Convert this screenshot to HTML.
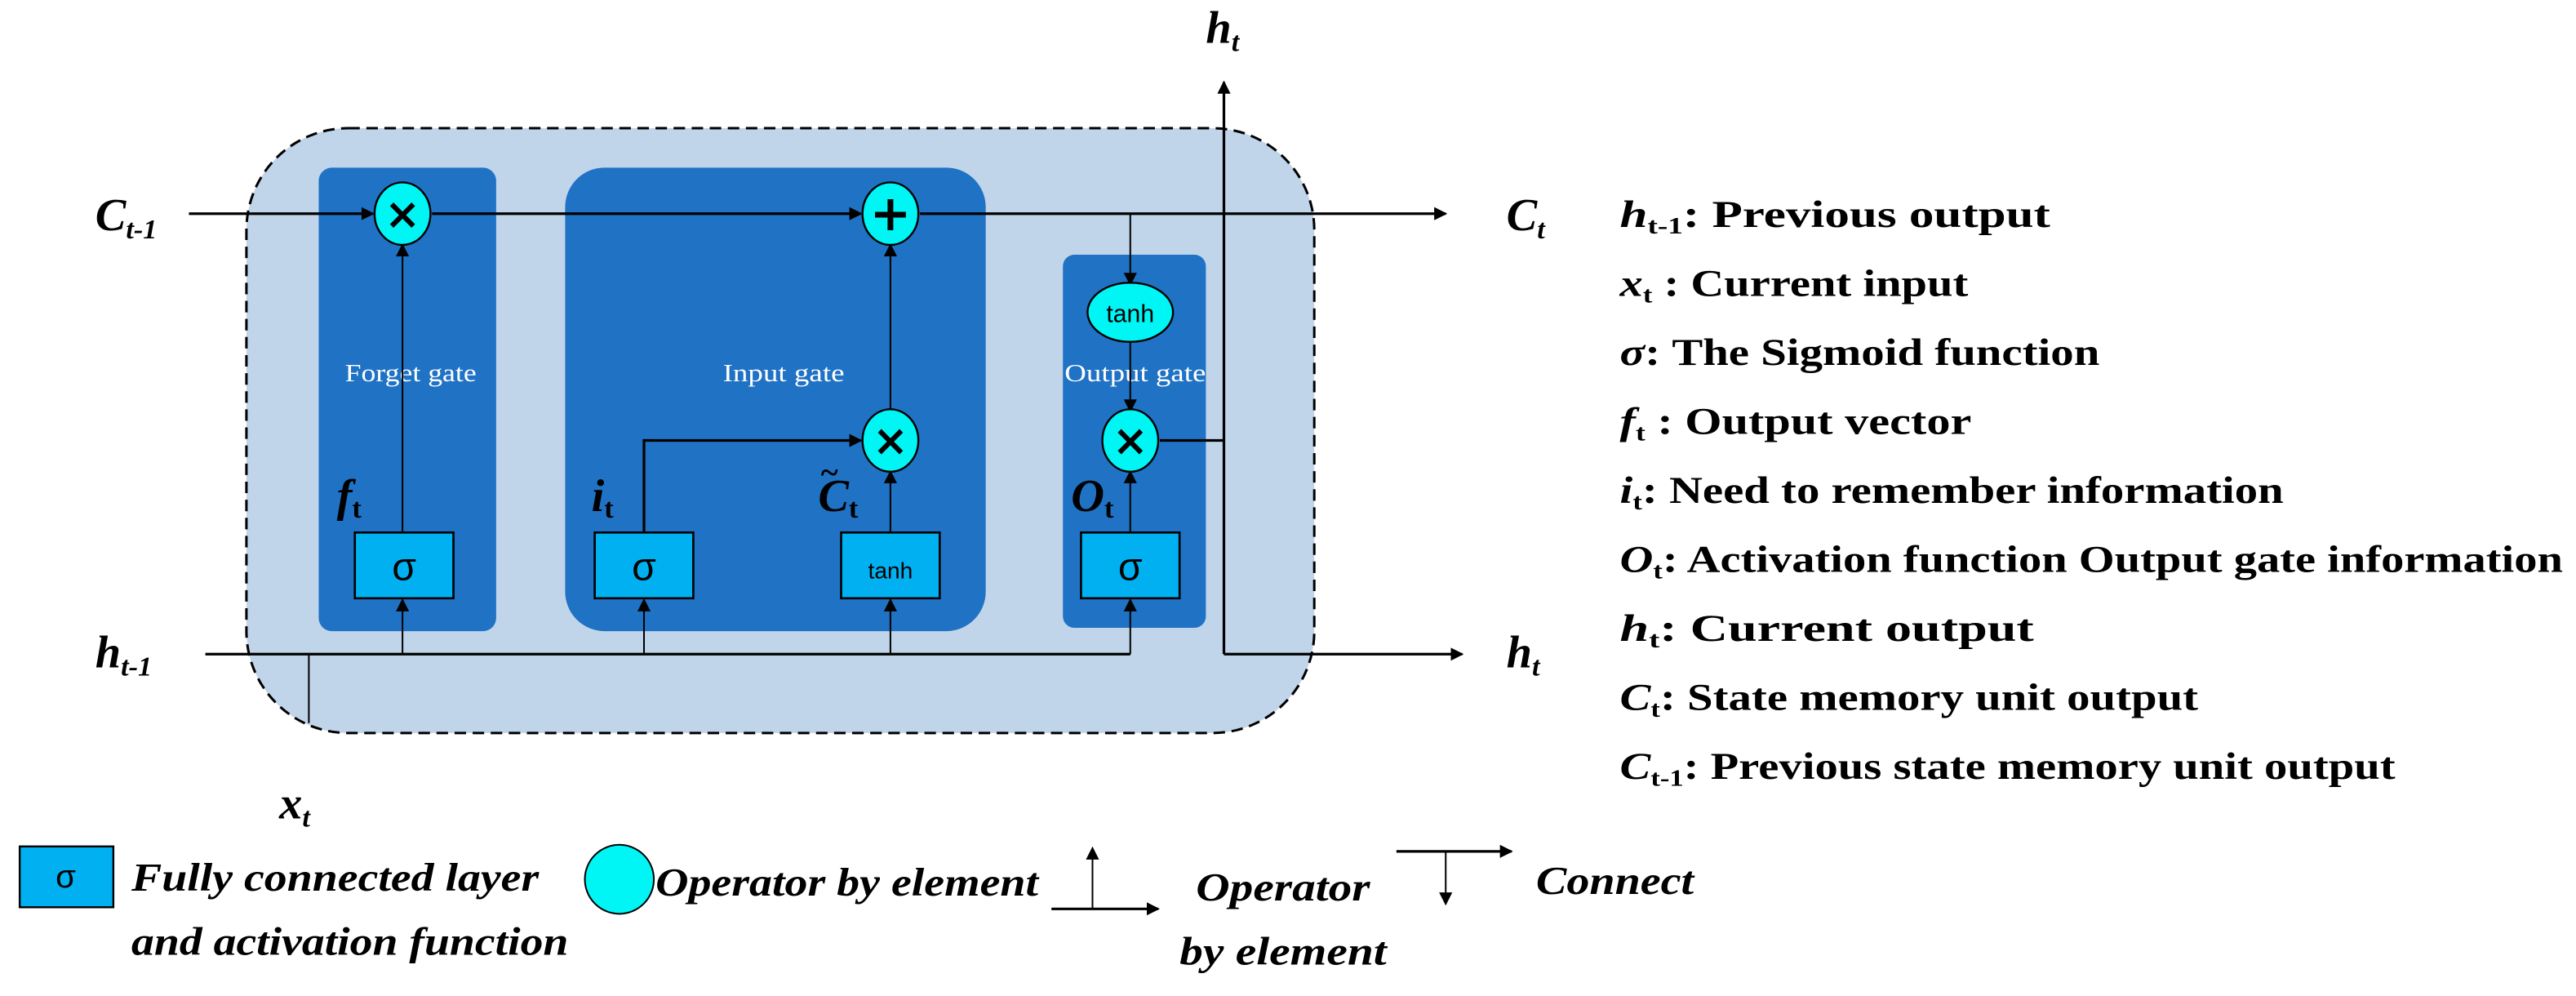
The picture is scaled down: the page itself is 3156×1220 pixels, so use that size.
<!DOCTYPE html>
<html><head><meta charset="utf-8"><style>html,body{margin:0;padding:0;background:#fff}svg{display:block}</style></head>
<body>
<svg width="3156" height="1220" viewBox="0 0 1568 606" preserveAspectRatio="none" xmlns="http://www.w3.org/2000/svg" font-family="'Liberation Serif', serif">
<defs>
<marker id="a" markerWidth="8" markerHeight="8" refX="7" refY="4" orient="auto" markerUnits="userSpaceOnUse"><path d="M0,0 L8,4 L0,8 z" fill="#000"/></marker>
</defs>
<rect x="150" y="78" width="650" height="368" rx="62" fill="#c0d5ea" stroke="#000" stroke-width="1.5" stroke-dasharray="7,4"/>
<rect x="194" y="102" width="108" height="282" rx="8" fill="#1f72c4"/>
<rect x="344" y="102" width="256" height="282" rx="24" fill="#1f72c4"/>
<rect x="647" y="155" width="87" height="227" rx="7" fill="#1f72c4"/>
<g fill="#fff" font-size="15" text-anchor="middle">
<text x="250" y="232" textLength="80" lengthAdjust="spacingAndGlyphs">Forget gate</text><text x="477" y="232" textLength="74" lengthAdjust="spacingAndGlyphs">Input gate</text><text x="691" y="232" textLength="86" lengthAdjust="spacingAndGlyphs">Output gate</text></g>
<g stroke="#000" stroke-width="1.6" fill="none">
<line x1="115" y1="130" x2="227" y2="130" marker-end="url(#a)"/>
<line x1="263" y1="130" x2="524" y2="130" marker-end="url(#a)"/>
<line x1="560" y1="130" x2="880" y2="130" marker-end="url(#a)"/>
<line x1="688" y1="130" x2="688" y2="173" stroke-width="1" marker-end="url(#a)"/>
<line x1="688" y1="207" x2="688" y2="250" stroke-width="1" marker-end="url(#a)"/>
<line x1="245" y1="324" x2="245" y2="149" stroke-width="1" marker-end="url(#a)"/>
<line x1="542" y1="250" x2="542" y2="149" stroke-width="1" marker-end="url(#a)"/>
<line x1="542" y1="324" x2="542" y2="287" stroke-width="1" marker-end="url(#a)"/>
<line x1="688" y1="324" x2="688" y2="287" stroke-width="1" marker-end="url(#a)"/>
<polyline points="392,324 392,268 524,268" marker-end="url(#a)"/>
<line x1="125" y1="398" x2="688" y2="398"/>
<line x1="245" y1="398" x2="245" y2="365" stroke-width="1" marker-end="url(#a)"/>
<line x1="392" y1="398" x2="392" y2="365" stroke-width="1" marker-end="url(#a)"/>
<line x1="542" y1="398" x2="542" y2="365" stroke-width="1" marker-end="url(#a)"/>
<line x1="688" y1="398" x2="688" y2="365" stroke-width="1" marker-end="url(#a)"/>
<line x1="188" y1="398" x2="188" y2="440" stroke-width="1"/>
<line x1="706" y1="268" x2="745" y2="268"/>
<line x1="745" y1="398" x2="745" y2="50" marker-end="url(#a)"/>
<line x1="745" y1="398" x2="890" y2="398" marker-end="url(#a)"/>
</g>
<g fill="#00f5f5" stroke="#000" stroke-width="1.2">
<ellipse cx="245" cy="130" rx="17" ry="19"/><ellipse cx="542" cy="130" rx="17" ry="19"/>
<ellipse cx="542" cy="268" rx="17" ry="19"/><ellipse cx="688" cy="268" rx="17" ry="19"/>
<ellipse cx="688" cy="190" rx="26" ry="18"/>
</g>
<g font-family="'DejaVu Sans',sans-serif" font-weight="bold" font-size="26" text-anchor="middle">
<text x="245" y="139">×</text><text x="542" y="140" font-size="30">+</text><text x="542" y="277">×</text><text x="688" y="277">×</text>
<text x="688" y="196" font-size="15" font-weight="normal" font-family="'Liberation Sans',sans-serif">tanh</text></g>
<g fill="#00b0f0" stroke="#000" stroke-width="1.3">
<rect x="216" y="324" width="60" height="40"/><rect x="362" y="324" width="60" height="40"/>
<rect x="512" y="324" width="60" height="40"/><rect x="658" y="324" width="60" height="40"/></g>
<g font-family="'Liberation Sans',sans-serif" font-size="24" text-anchor="middle">
<text x="246" y="353">σ</text><text x="392" y="353">σ</text><text x="688" y="353">σ</text>
<text x="542" y="352" font-size="14">tanh</text></g>
<g font-weight="bold" font-style="italic" font-size="28">
<text x="58" y="140">C<tspan font-size="17" dy="5">t-1</tspan></text>
<text x="58" y="406">h<tspan font-size="17" dy="5">t-1</tspan></text>
<text x="917" y="140">C<tspan font-size="17" dy="5">t</tspan></text>
<text x="917" y="406">h<tspan font-size="17" dy="5">t</tspan></text>
<text x="734" y="26">h<tspan font-size="17" dy="5">t</tspan></text>
<text x="170" y="498">x<tspan font-size="17" dy="5">t</tspan></text>
<text x="205" y="311">f<tspan font-size="17" font-style="normal" dy="4">t</tspan></text>
<text x="360" y="311">i<tspan font-size="17" font-style="normal" dy="4">t</tspan></text>
<text x="498" y="311">C<tspan font-size="17" font-style="normal" dy="4">t</tspan></text>
<text x="499" y="294" font-size="20">~</text>
<text x="652" y="311">O<tspan font-size="17" font-style="normal" dy="4">t</tspan></text>
</g>
<g font-weight="bold" font-size="23">
<text x="986" y="138" textLength="262" lengthAdjust="spacingAndGlyphs"><tspan font-style="italic">h</tspan><tspan font-size="14" dy="4">t-1</tspan><tspan dy="-4">: Previous output</tspan></text>
<text x="986" y="180" textLength="212" lengthAdjust="spacingAndGlyphs"><tspan font-style="italic">x</tspan><tspan font-size="14" dy="4">t</tspan><tspan dy="-4"> : Current input</tspan></text>
<text x="986" y="222" textLength="292" lengthAdjust="spacingAndGlyphs"><tspan font-style="italic">σ</tspan>: The Sigmoid function</text>
<text x="986" y="264" textLength="214" lengthAdjust="spacingAndGlyphs"><tspan font-style="italic">f</tspan><tspan font-size="14" dy="4">t</tspan><tspan dy="-4"> :  Output vector</tspan></text>
<text x="986" y="306" textLength="404" lengthAdjust="spacingAndGlyphs"><tspan font-style="italic">i</tspan><tspan font-size="14" dy="4">t</tspan><tspan dy="-4">: Need to remember information</tspan></text>
<text x="986" y="348" textLength="574" lengthAdjust="spacingAndGlyphs"><tspan font-style="italic">O</tspan><tspan font-size="14" dy="4">t</tspan><tspan dy="-4">: Activation function Output gate information</tspan></text>
<text x="986" y="390" textLength="252" lengthAdjust="spacingAndGlyphs"><tspan font-style="italic">h</tspan><tspan font-size="14" dy="4">t</tspan><tspan dy="-4">: Current output</tspan></text>
<text x="986" y="432" textLength="352" lengthAdjust="spacingAndGlyphs"><tspan font-style="italic">C</tspan><tspan font-size="14" dy="4">t</tspan><tspan dy="-4">: State memory unit output</tspan></text>
<text x="986" y="474" textLength="472" lengthAdjust="spacingAndGlyphs"><tspan font-style="italic">C</tspan><tspan font-size="14" dy="4">t-1</tspan><tspan dy="-4">: Previous state memory unit output</tspan></text>
</g>
<rect x="12" y="515" width="57" height="37" fill="#00b0f0" stroke="#000" stroke-width="1.2"/>
<text x="40" y="540" font-family="'Liberation Sans',sans-serif" font-size="20" text-anchor="middle">σ</text>
<ellipse cx="377" cy="535" rx="21" ry="21" fill="#00f5f5" stroke="#000" stroke-width="1"/>
<g stroke="#000" stroke-width="1.6" fill="none">
<line x1="665" y1="553" x2="665" y2="516" stroke-width="1" marker-end="url(#a)"/>
<line x1="640" y1="553" x2="705" y2="553" marker-end="url(#a)"/>
<line x1="850" y1="518" x2="920" y2="518" marker-end="url(#a)"/>
<line x1="880" y1="518" x2="880" y2="550" stroke-width="1" marker-end="url(#a)"/>
</g>
<g font-weight="bold" font-style="italic" font-size="24">
<text x="80" y="542" textLength="248" lengthAdjust="spacingAndGlyphs">Fully connected layer</text>
<text x="80" y="581" textLength="266" lengthAdjust="spacingAndGlyphs">and activation function</text>
<text x="399" y="545" textLength="233" lengthAdjust="spacingAndGlyphs">Operator by element</text>
<text x="728" y="548" textLength="106" lengthAdjust="spacingAndGlyphs">Operator</text>
<text x="718" y="587" textLength="126" lengthAdjust="spacingAndGlyphs">by element</text>
<text x="935" y="544" textLength="96" lengthAdjust="spacingAndGlyphs">Connect</text>
</g>
</svg>
</body></html>
